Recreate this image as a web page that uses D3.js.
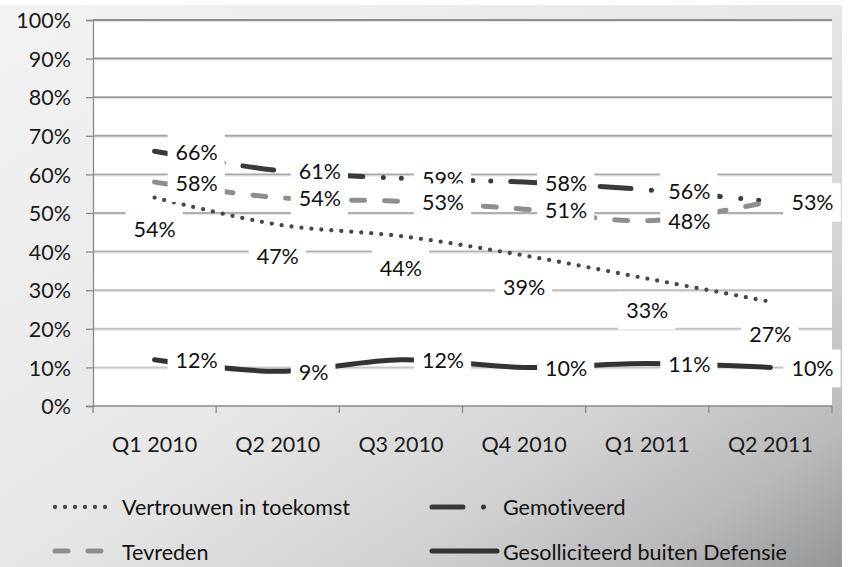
<!DOCTYPE html>
<html>
<head>
<meta charset="utf-8">
<script src="https://cdn.jsdelivr.net/npm/d3@7"></script>
<style>
  html, body { margin: 0; padding: 0; background: #ffffff; }
  svg { display: block; }
  text { font-family: Lato, "Open Sans", sans-serif; font-variant-ligatures: none; font-feature-settings: "liga" 0, "clig" 0; }
</style>
</head>
<body>
<svg id="chart" width="849" height="567"></svg>
<script>
const categories = ["Q1 2010", "Q2 2010", "Q3 2010", "Q4 2010", "Q1 2011", "Q2 2011"];
const vertrouwen = [54, 47, 44, 39, 33, 27];
const gemotiveerd = [66, 61, 59, 58, 56, 53];
const tevreden = [58, 54, 53, 51, 48, 53];
const gesolliciteerd = [12, 9, 12, 10, 11, 10];
const yTicks = [0, 10, 20, 30, 40, 50, 60, 70, 80, 90, 100];
const seriesNames = ["Vertrouwen in toekomst", "Gemotiveerd", "Tevreden", "Gesolliciteerd buiten Defensie"];

const series = [
  { name: seriesNames[0], values: vertrouwen, color: "#474747", width: 4.3, dash: "0 10", cap: "round", labelPos: "below" },
  { name: seriesNames[1], values: gemotiveerd, color: "#3a3a3a", width: 5, dash: "31 20.5 0 18 0 20", cap: "round", labelPos: "right" },
  { name: seriesNames[2], values: tevreden, color: "#8e8e8e", width: 5, dash: "13 20", cap: "round", labelPos: "right" },
  { name: seriesNames[3], values: gesolliciteerd, color: "#333333", width: 5, dash: null, cap: "round", labelPos: "right" }
];

const svg = d3.select("#chart");
const W = 849, H = 567;
const plot = { left: 93, right: 832, top: 20, bottom: 406 };
const FONT = 21.5;

// background gradient
const defs = svg.append("defs");
const bg = defs.append("linearGradient").attr("id", "bgGrad")
  .attr("x1", 0).attr("y1", 0).attr("x2", 1).attr("y2", 1);
[[0, "#f3f3f3"], [0.5, "#e7e7e7"], [0.72, "#d3d3d3"], [0.88, "#b9b9b9"], [1, "#959595"]]
  .forEach(([o, c]) => bg.append("stop").attr("offset", o).attr("stop-color", c));

svg.append("rect").attr("x", 0).attr("y", 0).attr("width", W).attr("height", H).attr("fill", "#ffffff");
svg.append("rect").attr("x", 0).attr("y", 5).attr("width", 842).attr("height", H - 5).attr("fill", "url(#bgGrad)");

// plot area
svg.append("rect").attr("x", plot.left).attr("y", plot.top)
  .attr("width", plot.right - plot.left).attr("height", plot.bottom - plot.top).attr("fill", "#ffffff");

const x = d3.scaleBand().domain(categories).range([plot.left, plot.right]);
const cx = c => x(c) + x.bandwidth() / 2;
const y = d3.scaleLinear().domain([0, 100]).range([plot.bottom, plot.top]);

// gridlines
const gridColor = d3.interpolateRgb("#8f8f8f", "#c8c8c8");
const grid = svg.append("g");
yTicks.filter(t => t > 0).forEach(t => {
  const yy = y(t);
  const k = (100 - t) / 90;
  grid.append("line").attr("x1", plot.left).attr("x2", plot.right)
    .attr("y1", yy).attr("y2", yy).attr("stroke", gridColor(k)).attr("stroke-width", 2);
  grid.append("line").attr("x1", plot.left).attr("x2", plot.right)
    .attr("y1", yy + 1.5).attr("y2", yy + 1.5).attr("stroke", "#dcdcdc").attr("stroke-width", 1).attr("opacity", 0.7);
});

// y axis
const yAxis = d3.axisLeft(y).tickValues(yTicks).tickSize(7).tickPadding(15).tickFormat(d => d + "%");
const yg = svg.append("g").attr("transform", `translate(${plot.left},0)`).call(yAxis);
yg.select(".domain").attr("stroke", "#8a8a8a").attr("stroke-width", 1.3);
yg.selectAll(".tick line").attr("stroke", "#8a8a8a").attr("stroke-width", 1.3);
yg.selectAll(".tick text").attr("font-size", FONT).attr("fill", "#1a1a1a")
  .attr("font-family", "Lato, sans-serif").attr("dy", "0.36em");

// x axis
const xAxis = d3.axisBottom(x).tickSize(0).tickPadding(0);
const xg = svg.append("g").attr("transform", `translate(0,${plot.bottom})`).call(xAxis);
xg.select(".domain").remove();
xg.selectAll(".tick text").attr("font-size", FONT).attr("fill", "#1a1a1a")
  .attr("font-family", "Lato, sans-serif").attr("dy", null).attr("y", 46);
svg.append("line").attr("x1", plot.left).attr("x2", plot.right)
  .attr("y1", plot.bottom).attr("y2", plot.bottom).attr("stroke", "#8a8a8a").attr("stroke-width", 1.3);
const bounds = categories.map(c => x(c)).concat([x(categories[categories.length - 1]) + x.bandwidth()]);
svg.append("g").selectAll("line").data(bounds).join("line")
  .attr("x1", d => d).attr("x2", d => d).attr("y1", plot.bottom).attr("y2", plot.bottom + 7)
  .attr("stroke", "#8a8a8a").attr("stroke-width", 1.3);

// lines
const lineGen = d3.line().x(d => cx(d.c)).y(d => y(d.v)).curve(d3.curveCatmullRom.alpha(0.5));
series.forEach(s => {
  const pts = categories.map((c, i) => ({ c, v: s.values[i] }));
  const p = svg.append("path").attr("d", lineGen(pts)).attr("fill", "none")
    .attr("stroke", s.color).attr("stroke-width", s.width)
    .attr("stroke-linecap", s.cap).attr("stroke-linejoin", "round");
  if (s.dash) p.attr("stroke-dasharray", s.dash);
});

// data labels
series.forEach(s => {
  const g = svg.append("g");
  categories.forEach((c, i) => {
    const v = s.values[i];
    const px = cx(c), py = y(v);
    const t = g.append("text").attr("font-size", FONT).attr("fill", "#111111").text(v + "%");
    const w = t.node().getComputedTextLength();
    let tx, tyc;
    if (s.labelPos === "below") { tx = px - w / 2; tyc = py + 32; }
    else { tx = px + 21; tyc = py + 1; }
    t.attr("x", tx).attr("y", tyc + FONT * 0.36);
    g.insert("rect", () => t.node())
      .attr("x", tx - 8).attr("y", tyc - 19).attr("width", w + 15).attr("height", 38)
      .attr("fill", "#ffffff");
  });
});

// legend
const legend = svg.append("g");
const legendItems = [
  { s: series[0], sx: 55, ex: 113, tx: 122, ty: 515, cy: 507 },
  { s: series[1], sx: 432, ex: 497, tx: 503, ty: 515, cy: 507 },
  { s: series[2], sx: 55, ex: 113, tx: 122, ty: 560, cy: 551 },
  { s: series[3], sx: 432, ex: 497, tx: 503, ty: 560, cy: 551 }
];
legendItems.forEach(it => {
  const l = legend.append("line").attr("x1", it.sx).attr("x2", it.ex).attr("y1", it.cy).attr("y2", it.cy)
    .attr("stroke", it.s.color).attr("stroke-width", it.s.width).attr("stroke-linecap", it.s.cap);
  if (it.s.dash) l.attr("stroke-dasharray", it.s.dash);
  legend.append("text").attr("x", it.tx).attr("y", it.ty).attr("font-size", FONT)
    .attr("fill", "#111111").text(it.s.name);
});
</script>
</body>
</html>
